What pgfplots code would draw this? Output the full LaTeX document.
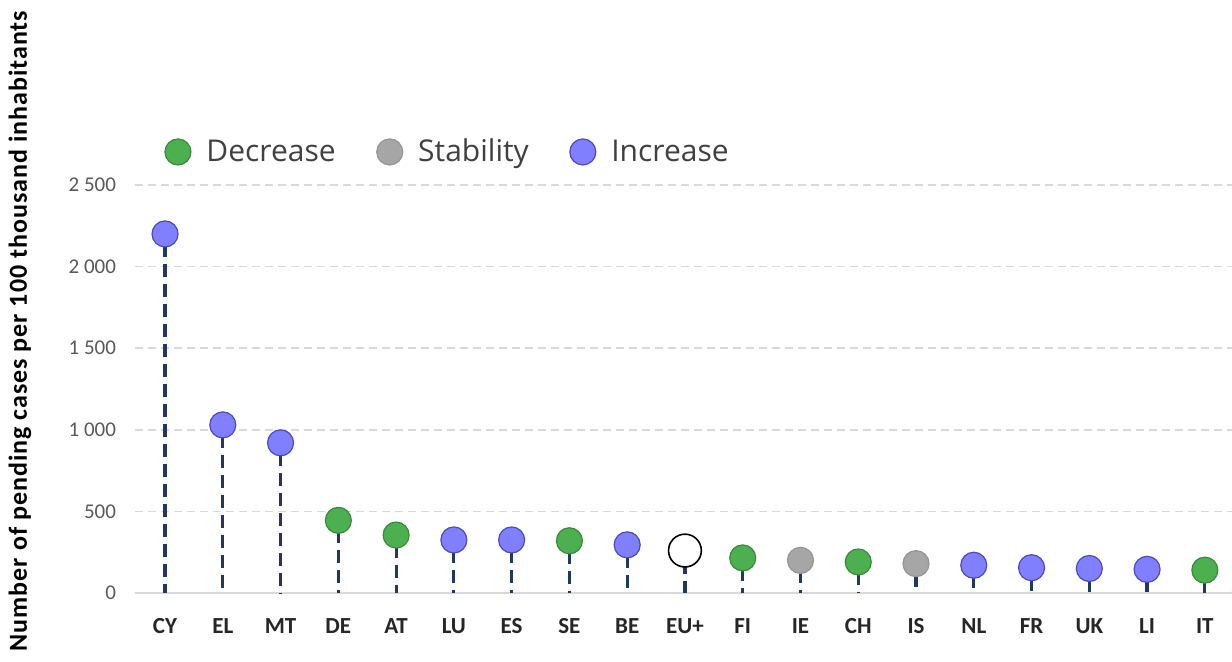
\documentclass[border=0pt]{standalone}
\usepackage{fontspec}
\setmainfont{Carlito}
\newfontfamily\legendfont{Open Sans}
\newfontfamily\ylabfont[LetterSpace=3.8]{Carlito}
\usepackage{pgfplots}
\usepackage{pgfplotstable}
\pgfplotsset{compat=1.18}
\definecolor{stemc}{HTML}{1F3864}
\definecolor{incf}{HTML}{8080FF}
\definecolor{incd}{HTML}{4A4AC4}
\definecolor{decf}{HTML}{4CAF50}
\definecolor{decd}{HTML}{3A8A3C}
\definecolor{staf}{HTML}{A6A6A6}
\definecolor{stad}{HTML}{959595}
\definecolor{gridc}{HTML}{D9D9D9}
\definecolor{tickc}{HTML}{595959}

\pgfplotstableread{
x lab val cat
0 CY 2200 inc
1 EL 1030 inc
2 MT 920 inc
3 DE 445 dec
4 AT 355 dec
5 LU 325 inc
6 ES 325 inc
7 SE 320 dec
8 BE 295 inc
9 EU+ 260 eu
10 FI 215 dec
11 IE 200 sta
12 CH 190 dec
13 IS 180 sta
14 NL 170 inc
15 FR 155 inc
16 UK 150 inc
17 LI 145 inc
18 IT 140 dec
}\data

\begin{document}
\begin{tikzpicture}
\begin{axis}[
  scale only axis,
  width=548.5pt, height=204pt,
  xmin=-0.52, xmax=18.47,
  ymin=0, ymax=2500,
  axis lines*=left,
  y axis line style={draw=none},
  x axis line style={draw=gridc, line width=1pt, -},
  major tick length=0pt,
  xtick=data,
  xticklabels={CY,EL,MT,DE,AT,LU,ES,SE,BE,EU+,FI,IE,CH,IS,NL,FR,UK,LI,IT},
  xticklabel style={font=\fontsize{11.5}{13}\selectfont\bfseries, text=black!85, anchor=base, yshift=-20.5pt},
  ytick={0,500,1000,1500,2000,2500},
  yticklabel style={font=\fontsize{10.5}{12}\selectfont, text=tickc, anchor=east, xshift=-6pt},
  /pgf/number format/.cd, 1000 sep={\ }, assume math mode=true,
  /pgfplots/.cd,
  ymajorgrids,
  major grid style={draw=gridc, line width=0.8pt, dash pattern=on 4pt off 2.5pt},
  clip=false,
  every axis y label/.style={at={(axis description cs:-0.1048,0.642)}, rotate=90, anchor=center,
     font=\ylabfont\fontsize{13}{15}\selectfont\bfseries},
  ylabel={Number of pending cases per 100 thousand inhabitants},
  legend columns=3,
  legend style={draw=none, fill=none, inner sep=0pt, outer sep=0pt,
    at={(axis description cs:0.0273,1.081)}, anchor=west,
    font=\legendfont\fontsize{15}{18}\selectfont, text=black!75,
    nodes={inner sep=0pt},
    /tikz/every odd column/.append style={column sep=7.75pt},
    /tikz/every even column/.append style={column sep=20.5pt}},
  legend image code/.code={\draw[#1] plot coordinates {(0pt,0pt)};},
]
% stems, each drawn from the marker down to the axis
\pgfplotsinvokeforeach{0,...,18}{
  \pgfplotstablegetelem{#1}{val}\of\data
  \edef\stemcmd{\noexpand\addplot[forget plot, draw=stemc, line width=1.6pt,
      dash pattern=on 6.5pt off 3.5pt, dash phase=5pt, mark=none]
      coordinates {(#1,\pgfplotsretval) (#1,0)};}
  \stemcmd
}
% markers
\addplot[scatter, only marks, forget plot,
  scatter src=explicit symbolic,
  scatter/classes={
    inc={mark=*, mark size=6.5pt, fill=incf, draw=incd, line width=0.6pt},
    dec={mark=*, mark size=6.5pt, fill=decf, draw=decd, line width=0.6pt},
    sta={mark=*, mark size=6.5pt, fill=staf, draw=stad, line width=0.6pt},
    eu={mark=*, mark size=8.2pt, fill=white, draw=black, line width=0.8pt}}]
  table[x=x, y=val, meta=cat] {\data};
\addlegendimage{only marks, mark=*, mark size=6.5pt, fill=decf, draw=decd, line width=0.6pt}
\addlegendentry{Decrease}
\addlegendimage{only marks, mark=*, mark size=6.5pt, fill=staf, draw=stad, line width=0.6pt}
\addlegendentry{Stability}
\addlegendimage{only marks, mark=*, mark size=6.5pt, fill=incf, draw=incd, line width=0.6pt}
\addlegendentry{Increase}
\end{axis}
\pgfresetboundingbox
\path (current axis.south west) ++(-67.5pt,-34.5pt) coordinate (bl);
\path (current axis.north east) ++(0pt,92.5pt) coordinate (tr);
\useasboundingbox (bl) rectangle (tr);
\end{tikzpicture}
\end{document}
